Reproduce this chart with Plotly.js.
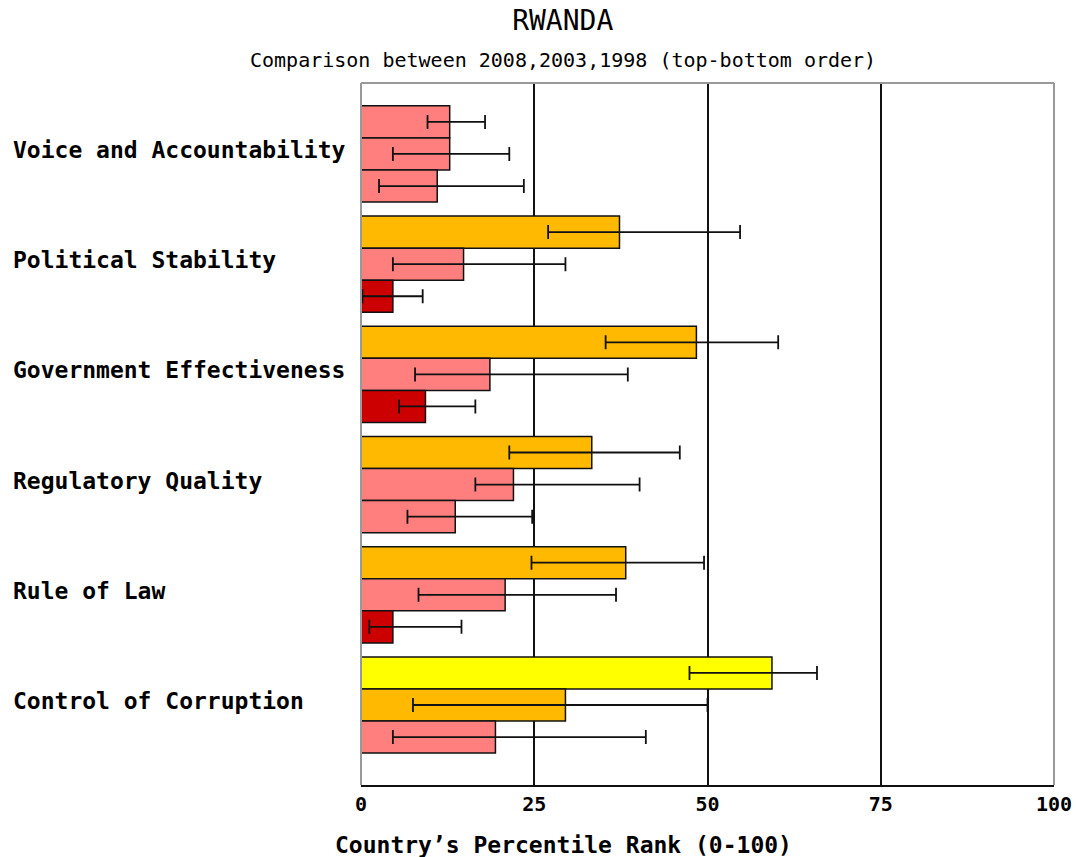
<!DOCTYPE html>
<html>
<head>
<meta charset="utf-8">
<script src="https://cdn.plot.ly/plotly-3.0.1.min.js"></script>
<style>html,body{margin:0;padding:0;background:#fff;}#chart{width:1076px;height:857px;}</style>
</head>
<body>
<div id="chart"></div>
<script>
const categories = ["Voice and Accountability", "Political Stability", "Government Effectiveness", "Regulatory Quality", "Rule of Law", "Control of Corruption"];
const years = ["2008", "2003", "1998"];

const rank2008 = [12.8, 37.3, 48.4, 33.3, 38.2, 59.3];
const low2008  = [9.6, 27.0, 35.3, 21.4, 24.6, 47.4];
const high2008 = [17.9, 54.7, 60.2, 46.0, 49.5, 65.8];

const rank2003 = [12.8, 14.8, 18.6, 22.0, 20.8, 29.5];
const low2003  = [4.6, 4.6, 7.8, 16.5, 8.3, 7.5];
const high2003 = [21.4, 29.5, 38.5, 40.2, 36.8, 50.0];

const rank1998 = [11.0, 4.6, 9.3, 13.6, 4.6, 19.4];
const low1998  = [2.6, 0.2, 5.5, 6.7, 1.2, 4.6];
const high1998 = [23.5, 8.9, 16.5, 24.7, 14.5, 41.1];

const xTicks = [0, 25, 50, 75, 100];

function rankColor(v) {
  if (v < 10) return "#CC0000";
  if (v < 25) return "#FF7F7F";
  if (v < 50) return "#FFBA00";
  if (v < 75) return "#FFFF00";
  if (v < 90) return "#99CC00";
  return "#008000";
}

const FONT = "DejaVu Sans Mono, Liberation Mono, monospace";

function makeTrace(name, vals, lo, hi) {
  return {
    type: "bar",
    orientation: "h",
    name: name,
    y: categories,
    x: vals,
    marker: { color: vals.map(rankColor), line: { color: "#111", width: 1.5 } },
    error_x: {
      type: "data", symmetric: false,
      array: vals.map((v, i) => hi[i] - v),
      arrayminus: vals.map((v, i) => v - lo[i]),
      color: "#111", thickness: 1.8, width: 7
    },
    hoverinfo: "x+name"
  };
}

const data = [
  makeTrace(years[0], rank2008, low2008, high2008),
  makeTrace(years[1], rank2003, low2003, high2003),
  makeTrace(years[2], rank1998, low1998, high1998)
];

const annotations = categories.map(c => ({
  xref: "paper", yref: "y", x: -0.505, y: c, xanchor: "left", yanchor: "middle", yshift: 4,
  text: "<b>" + c + "</b>", showarrow: false,
  font: { family: FONT, size: 23, color: "#000" }
}));
annotations.push({
  xref: "paper", yref: "paper", x: 0.2915, y: 1.033, xanchor: "center", yanchor: "middle",
  text: "Comparison between " + years.join(",") + " (top-bottom order)", showarrow: false,
  font: { family: FONT, size: 20, color: "#000" }
});
annotations.push({
  xref: "paper", yref: "paper", x: 0.2915, y: -0.0855, xanchor: "center", yanchor: "middle",
  text: "<b>Country’s Percentile Rank (0-100)</b>", showarrow: false,
  font: { family: FONT, size: 23, color: "#000" }
});

const layout = {
  width: 1076, height: 857,
  margin: { l: 361, r: 22, t: 83, b: 72 },
  paper_bgcolor: "#fff", plot_bgcolor: "#fff",
  showlegend: false,
  barmode: "group", bargap: 0.127, bargroupgap: 0,
  title: { text: "RWANDA", x: 0.523, xanchor: "center", y: 0.977, yanchor: "middle",
           font: { family: FONT, size: 28, color: "#000" } },
  xaxis: {
    range: [0, 100], tickvals: xTicks, ticktext: xTicks.map(String),
    showgrid: true, gridcolor: "#111", gridwidth: 2, zeroline: false,
    showline: true, linecolor: "#111", linewidth: 2,
    ticks: "inside", ticklen: 6, tickwidth: 2, tickcolor: "#111",
    tickfont: { family: FONT, size: 20, color: "#000", weight: "bold" },
    fixedrange: true
  },
  yaxis: {
    type: "category", range: [5.726, -0.644], showticklabels: false,
    showgrid: false, zeroline: false, showline: false, ticks: "", fixedrange: true
  },
  annotations: annotations,
  shapes: [
    { type: "line", xref: "paper", yref: "paper", x0: 0, x1: 0, y0: 0, y1: 1, layer: "above", line: { color: "#999", width: 2 } },
    { type: "line", xref: "paper", yref: "paper", x0: 0, x1: 1, y0: 1, y1: 1, layer: "above", line: { color: "#999", width: 2 } },
    { type: "line", xref: "paper", yref: "paper", x0: 1, x1: 1, y0: 0, y1: 1, layer: "above", line: { color: "#999", width: 2 } }
  ]
};

Plotly.newPlot("chart", data, layout, { displayModeBar: false, staticPlot: true });
</script>
</body>
</html>
